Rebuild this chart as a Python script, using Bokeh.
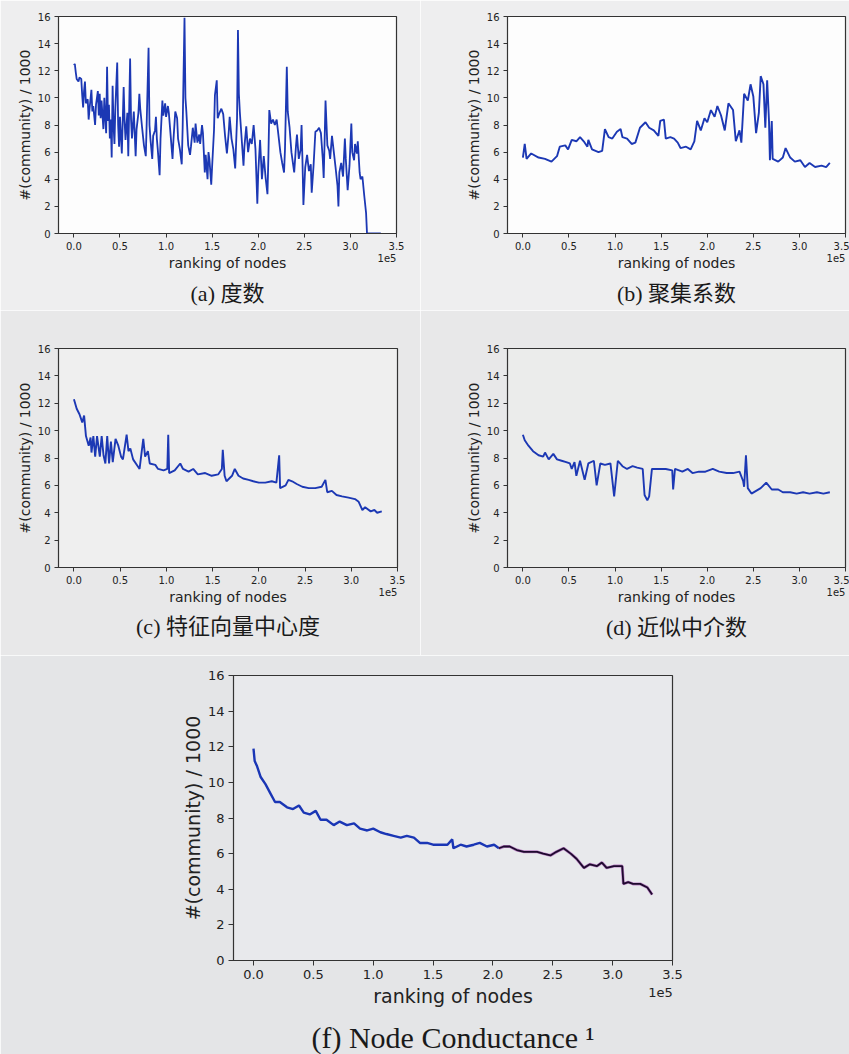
from bokeh.plotting import figure
from bokeh.layouts import column, row
from bokeh.models import Range1d, FixedTicker, NumeralTickFormatter, LinearAxis, Title
from bokeh.embed import file_html
from bokeh.resources import INLINE

# ---------------- data ----------------
X_TICKS = [0.0, 0.5, 1.0, 1.5, 2.0, 2.5, 3.0, 3.5]
Y_TICKS = [0, 2, 4, 6, 8, 10, 12, 14, 16]
X_LABEL = "ranking of nodes"
Y_LABEL = "#(community) / 1000"
X_OFFSET_TEXT = "1e5"

# (a) degree
rank_a = [0.00, 0.01, 0.02, 0.03, 0.05, 0.06, 0.08, 0.09, 0.10, 0.11, 0.12, 0.13, 0.15, 0.16, 0.17, 0.19,
          0.20, 0.21, 0.23, 0.24, 0.26, 0.27, 0.28, 0.29, 0.30, 0.32, 0.33, 0.34, 0.35, 0.36, 0.37, 0.38,
          0.39, 0.40, 0.41, 0.42, 0.43, 0.44, 0.45, 0.47, 0.48, 0.49, 0.50, 0.51, 0.52, 0.54, 0.55, 0.56,
          0.58, 0.59, 0.61, 0.62, 0.63, 0.65, 0.67, 0.68, 0.70, 0.71, 0.72, 0.74, 0.76, 0.78, 0.79, 0.81,
          0.82, 0.83, 0.85, 0.86, 0.88, 0.89, 0.90, 0.91, 0.93, 0.94, 0.96, 0.97, 0.99, 1.00, 1.02, 1.03,
          1.05, 1.07, 1.08, 1.10, 1.12, 1.13, 1.15, 1.17, 1.18, 1.20, 1.21, 1.22, 1.24, 1.26, 1.27, 1.29,
          1.31, 1.32, 1.34, 1.36, 1.37, 1.39, 1.40, 1.42, 1.43, 1.45, 1.46, 1.47, 1.49, 1.50, 1.52, 1.53,
          1.55, 1.56, 1.58, 1.60, 1.62, 1.64, 1.66, 1.68, 1.69, 1.71, 1.73, 1.75, 1.77, 1.78, 1.79, 1.80,
          1.82, 1.84, 1.85, 1.87, 1.89, 1.91, 1.93, 1.95, 1.97, 1.99, 2.00, 2.02, 2.04, 2.06, 2.08, 2.10,
          2.11, 2.12, 2.14, 2.16, 2.18, 2.20, 2.22, 2.24, 2.26, 2.28, 2.29, 2.31, 2.32, 2.34, 2.36, 2.38,
          2.39, 2.41, 2.42, 2.44, 2.46, 2.47, 2.48, 2.49, 2.51, 2.53, 2.55, 2.57, 2.58, 2.60, 2.62, 2.64,
          2.66, 2.68, 2.70, 2.71, 2.72, 2.73, 2.75, 2.77, 2.78, 2.80, 2.82, 2.84, 2.86, 2.87, 2.88, 2.90,
          2.92, 2.94, 2.95, 2.97, 2.99, 3.01, 3.02, 3.04, 3.05, 3.07, 3.08, 3.10, 3.11, 3.13, 3.15, 3.17,
          3.18, 3.25, 3.33]
comm_a = [12.4, 12.5, 11.9, 11.4, 11.2, 11.5, 11.4, 10.2, 9.3, 10.5, 11.2, 9.6, 9.9, 8.4, 9.2, 10.6,
          9.0, 9.4, 8.0, 9.5, 10.5, 8.7, 10.3, 8.5, 9.8, 7.7, 10.0, 8.6, 7.4, 12.3, 8.3, 9.5,
          7.0, 8.4, 5.6, 10.9, 8.0, 6.6, 9.3, 12.6, 8.0, 6.4, 8.6, 7.2, 5.9, 10.8, 8.3, 6.9,
          8.9, 5.7, 12.9, 8.4, 7.0, 9.0, 5.7, 7.7, 8.9, 10.3, 9.2, 7.8, 6.5, 5.7, 8.2, 13.7,
          8.0, 7.0, 5.5, 7.2, 7.6, 8.6, 7.0, 6.2, 4.3, 7.0, 9.8, 8.7, 9.6, 8.6, 9.4, 8.9,
          7.2, 5.5, 6.9, 9.0, 8.5, 7.0, 6.2, 5.1, 7.8, 15.9, 10.0, 9.0, 6.5, 5.8, 6.4, 7.8,
          6.7, 8.1, 6.7, 7.3, 6.6, 8.0, 7.4, 4.5, 5.8, 4.0, 6.0, 5.5, 3.6, 5.0, 7.6, 10.2,
          11.3, 8.5, 8.9, 9.2, 8.8, 7.2, 5.9, 7.5, 8.6, 7.0, 6.2, 4.8, 8.5, 15.0, 10.3, 9.0,
          7.0, 5.0, 6.4, 7.9, 6.0, 7.0, 6.6, 8.0, 6.2, 2.2, 4.5, 6.9, 4.0, 5.7, 4.1, 2.9,
          5.6, 9.1, 8.1, 8.4, 8.0, 8.4, 7.2, 6.0, 5.2, 4.5, 6.2, 12.3, 9.0, 7.8, 6.0, 5.0,
          4.5, 6.5, 7.3, 5.5, 6.2, 8.0, 5.3, 2.1, 4.9, 5.8, 4.6, 5.1, 3.0, 5.0, 7.5, 7.6,
          7.8, 7.4, 5.5, 4.1, 6.8, 9.8, 6.5, 6.1, 5.5, 7.2, 6.0, 4.8, 3.5, 2.0, 4.5, 5.2,
          4.2, 7.0, 5.5, 3.2, 5.0, 8.1, 6.0, 5.4, 6.6, 5.9, 6.8, 4.5, 4.0, 4.2, 2.8, 1.5,
          0.0, 0.0, 0.0]

# (b) clustering coefficient
rank_b = [0.00, 0.02, 0.04, 0.09, 0.17, 0.24, 0.31, 0.37, 0.40, 0.46, 0.49, 0.53, 0.58, 0.62, 0.66, 0.70,
          0.71, 0.75, 0.82, 0.86, 0.89, 0.93, 0.97, 1.02, 1.06, 1.08, 1.13, 1.18, 1.22, 1.27, 1.33, 1.37,
          1.42, 1.47, 1.49, 1.53, 1.55, 1.60, 1.64, 1.68, 1.71, 1.77, 1.82, 1.86, 1.89, 1.93, 1.97, 2.00,
          2.04, 2.08, 2.11, 2.15, 2.19, 2.23, 2.28, 2.31, 2.35, 2.37, 2.40, 2.44, 2.47, 2.50, 2.53, 2.56,
          2.58, 2.61, 2.63, 2.65, 2.67, 2.68, 2.70, 2.71, 2.77, 2.82, 2.85, 2.90, 2.95, 3.01, 3.06, 3.11,
          3.17, 3.24, 3.29, 3.33]
comm_b = [5.6, 6.6, 5.5, 5.9, 5.6, 5.5, 5.3, 5.7, 6.4, 6.5, 6.2, 6.9, 6.8, 7.1, 6.8, 6.4,
          6.9, 6.2, 6.0, 6.1, 7.7, 7.1, 7.0, 7.5, 7.7, 7.1, 7.0, 6.6, 6.7, 7.8, 8.2, 7.8,
          7.6, 7.2, 8.3, 8.4, 7.0, 7.1, 7.0, 6.7, 6.3, 6.4, 6.2, 6.8, 8.3, 7.6, 8.5, 8.2,
          9.1, 8.6, 9.4, 8.7, 7.6, 9.6, 9.1, 6.8, 7.6, 6.7, 10.3, 9.8, 11.0, 10.1, 7.4, 8.9,
          11.6, 11.0, 7.8, 11.3, 8.3, 5.4, 8.3, 5.5, 5.3, 5.6, 6.3, 5.6, 5.3, 5.4, 4.9, 5.2,
          4.9, 5.0, 4.9, 5.2]

# (c) eigenvector centrality
rank_c = [0.00, 0.03, 0.06, 0.09, 0.11, 0.13, 0.16, 0.18, 0.19, 0.21, 0.23, 0.25, 0.28, 0.30, 0.32, 0.34,
          0.36, 0.38, 0.40, 0.42, 0.45, 0.48, 0.51, 0.53, 0.57, 0.59, 0.61, 0.64, 0.69, 0.71, 0.75, 0.77,
          0.80, 0.82, 0.88, 0.91, 0.97, 1.01, 1.02, 1.03, 1.09, 1.15, 1.18, 1.24, 1.29, 1.34, 1.42, 1.49,
          1.56, 1.60, 1.61, 1.63, 1.65, 1.71, 1.74, 1.78, 1.83, 1.89, 1.94, 2.00, 2.07, 2.14, 2.19, 2.22,
          2.23, 2.29, 2.32, 2.36, 2.41, 2.47, 2.54, 2.61, 2.68, 2.72, 2.74, 2.79, 2.84, 2.90, 2.97, 3.04,
          3.08, 3.12, 3.15, 3.21, 3.25, 3.28, 3.33]
comm_c = [12.3, 11.6, 11.2, 10.6, 11.1, 9.6, 8.9, 9.5, 8.4, 9.6, 8.1, 9.6, 8.1, 9.6, 8.2, 7.6,
          9.6, 7.6, 9.2, 7.7, 9.4, 8.9, 8.1, 7.9, 9.7, 8.5, 8.7, 7.9, 7.4, 7.2, 9.4, 8.1,
          8.5, 7.6, 7.5, 7.2, 7.1, 7.2, 9.7, 6.9, 7.1, 7.6, 7.2, 7.0, 7.2, 6.8, 6.9, 6.7,
          6.8, 7.2, 8.6, 6.7, 6.3, 6.7, 7.2, 6.7, 6.5, 6.4, 6.3, 6.2, 6.2, 6.3, 6.2, 8.2,
          5.8, 6.0, 6.4, 6.3, 6.1, 5.9, 5.8, 5.8, 5.9, 6.4, 5.5, 5.6, 5.3, 5.2, 5.1, 5.0,
          4.8, 4.2, 4.4, 4.1, 4.2, 4.0, 4.1]

# (d) approximate betweenness centrality
rank_d = [0.00, 0.02, 0.06, 0.11, 0.17, 0.22, 0.24, 0.28, 0.33, 0.37, 0.42, 0.47, 0.51, 0.53, 0.56, 0.58,
          0.62, 0.67, 0.71, 0.77, 0.80, 0.84, 0.89, 0.95, 0.99, 1.03, 1.08, 1.13, 1.19, 1.24, 1.30, 1.32,
          1.35, 1.37, 1.40, 1.48, 1.55, 1.62, 1.63, 1.65, 1.73, 1.79, 1.84, 1.91, 1.98, 2.06, 2.13, 2.21,
          2.28, 2.35, 2.39, 2.40, 2.42, 2.44, 2.48, 2.53, 2.58, 2.64, 2.70, 2.77, 2.82, 2.90, 2.97, 3.04,
          3.11, 3.19, 3.26, 3.33]
comm_d = [9.7, 9.3, 8.9, 8.5, 8.2, 8.1, 8.4, 7.9, 8.3, 7.9, 7.8, 7.7, 7.6, 7.2, 7.7, 6.7,
          7.8, 6.4, 7.6, 7.8, 6.0, 7.6, 7.5, 7.6, 5.2, 7.8, 7.4, 7.2, 7.4, 7.3, 7.2, 5.3,
          4.9, 5.2, 7.2, 7.2, 7.2, 7.1, 5.7, 7.2, 7.0, 7.2, 6.9, 7.0, 7.0, 7.2, 7.0, 6.9,
          6.9, 7.0, 6.3, 5.9, 8.2, 5.8, 5.4, 5.6, 5.8, 6.2, 5.7, 5.7, 5.5, 5.5, 5.4, 5.5,
          5.4, 5.5, 5.4, 5.5]

# (f) node conductance (two colour segments)
rank_f1 = [0.00, 0.01, 0.03, 0.06, 0.10, 0.14, 0.18, 0.22, 0.28, 0.33, 0.38, 0.42, 0.47, 0.52, 0.56, 0.61,
           0.67, 0.72, 0.78, 0.84, 0.89, 0.95, 1.00, 1.06, 1.11, 1.17, 1.23, 1.28, 1.34, 1.39, 1.45, 1.50,
           1.56, 1.62, 1.66, 1.67, 1.73, 1.78, 1.84, 1.89, 1.95, 2.01, 2.05]
comm_f1 = [11.9, 11.2, 10.9, 10.3, 9.9, 9.4, 8.9, 8.9, 8.6, 8.5, 8.7, 8.3, 8.2, 8.4, 7.9, 7.9,
           7.6, 7.8, 7.6, 7.7, 7.4, 7.3, 7.4, 7.2, 7.1, 7.0, 6.9, 7.0, 6.9, 6.6, 6.6, 6.5,
           6.5, 6.5, 6.8, 6.3, 6.5, 6.4, 6.5, 6.6, 6.4, 6.5, 6.3]
rank_f2 = [2.05, 2.09, 2.14, 2.20, 2.26, 2.31, 2.37, 2.42, 2.48, 2.53, 2.59, 2.65, 2.70, 2.76, 2.81, 2.87,
           2.91, 2.95, 3.01, 3.08, 3.09, 3.13, 3.17, 3.23, 3.29, 3.33]
comm_f2 = [6.3, 6.4, 6.4, 6.2, 6.1, 6.1, 6.1, 6.0, 5.9, 6.1, 6.3, 6.0, 5.7, 5.2, 5.4, 5.3,
           5.5, 5.2, 5.3, 5.3, 4.3, 4.4, 4.3, 4.3, 4.1, 3.7]

CAPTIONS = ["(a) 度数", "(b) 聚集系数", "(c) 特征向量中心度", "(d) 近似中介数", "(f) Node Conductance \u00b9"]

# ---------------- drawing ----------------
X_START, X_END = -0.167, 3.5
Y_START, Y_END = 0, 16
PAGE_BG = ["#eeeeef", "#e8e8e9", "#e4e5e7"]
CAPTION_FONT = "Liberation Serif, Noto Sans CJK SC"
INK = "#222222"


def make_panel(geom, frame_bg, page_bg, caption, cap_standoff, big=False):
    left, fw, right, top, fh, bottom = geom
    p = figure(frame_width=fw, frame_height=fh,
               min_border_left=left, min_border_right=right,
               min_border_top=top, min_border_bottom=bottom,
               x_range=Range1d(X_START, X_END), y_range=Range1d(Y_START, Y_END),
               toolbar_location=None, output_backend="svg",
               background_fill_color=frame_bg, border_fill_color=page_bg,
               outline_line_color="#333333", outline_line_width=1.2)
    p.grid.visible = False
    p.xaxis.ticker = FixedTicker(ticks=X_TICKS)
    p.yaxis.ticker = FixedTicker(ticks=Y_TICKS)
    p.xaxis.formatter = NumeralTickFormatter(format="0.0")
    p.axis.major_tick_in = 0
    p.axis.major_tick_out = 5 if big else 4
    p.axis.minor_tick_line_color = None
    p.axis.axis_line_color = "#333333"
    p.axis.major_tick_line_color = "#333333"
    p.axis.major_label_text_font = "DejaVu Sans"
    p.axis.major_label_text_color = INK
    p.axis.major_label_text_font_size = "13px" if big else "10px"
    p.axis.major_label_standoff = 4
    p.yaxis.axis_label = Y_LABEL
    p.yaxis.axis_label_text_font = "DejaVu Sans"
    p.yaxis.axis_label_text_font_style = "normal"
    p.yaxis.axis_label_text_color = INK
    p.yaxis.axis_label_text_font_size = "19px" if big else "14px"
    p.yaxis.axis_label_standoff = 1 if big else 2

    # second row under the tick labels: the "1e5" offset text (as a tick label at the
    # right end) and the axis title "ranking of nodes" on the same line
    xs = fw / (X_END - X_START)
    off_pos = X_END - (12.0 if big else 9.5) / xs
    off_axis = LinearAxis(ticker=FixedTicker(ticks=[off_pos]),
                          major_label_overrides={off_pos: X_OFFSET_TEXT},
                          axis_line_color=None, major_tick_line_color=None,
                          minor_tick_line_color=None,
                          major_tick_in=0, major_tick_out=0,
                          major_label_standoff=6 if big else 1,
                          major_label_text_font="DejaVu Sans",
                          major_label_text_font_size="13px" if big else "10px",
                          major_label_text_color=INK,
                          axis_label=X_LABEL, axis_label_standoff=-15 if big else -10,
                          axis_label_text_font="DejaVu Sans",
                          axis_label_text_font_style="normal",
                          axis_label_text_color=INK,
                          axis_label_text_font_size="19px" if big else "14px")
    p.add_layout(off_axis, "below")

    p.add_layout(Title(text=caption, align="center", standoff=cap_standoff,
                       text_font=CAPTION_FONT, text_font_style="normal",
                       text_font_size="30px" if big else "22px",
                       text_color="#1a1a1a"), "below")
    return p


BLUE = "#1c38b4"

pa = make_panel((58, 338, 24, 16, 217, 77), "#fdfdfd", PAGE_BG[0], CAPTIONS[0], 10)
pa.line(rank_a, comm_a, line_color=BLUE, line_width=1.8)

pb = make_panel((87, 338, 4, 16, 217, 77), "#fdfdfd", PAGE_BG[0], CAPTIONS[1], 10)
pb.line(rank_b, comm_b, line_color=BLUE, line_width=1.9)

pc = make_panel((58, 339, 23, 38, 219, 88), "#efefef", PAGE_BG[1], CAPTIONS[2], 9)
pc.line(rank_c, comm_c, line_color=BLUE, line_width=1.9)

pd = make_panel((87, 338, 4, 38, 219, 88), "#ebeceb", PAGE_BG[1], CAPTIONS[3], 10)
pd.line(rank_d, comm_d, line_color=BLUE, line_width=1.9)

pf = make_panel((233, 439, 177, 20, 285, 94), "#e8e9ec", PAGE_BG[2], CAPTIONS[4], 18, big=True)
pf.line(rank_f1, comm_f1, line_color="#1a36b5", line_width=2.4)
pf.line(rank_f2, comm_f2, line_color="#9a3aa8", line_width=3.0, line_alpha=0.6)
pf.line(rank_f2, comm_f2, line_color="#1e0a2e", line_width=1.8)

layout = column(row(pa, pb), row(pc, pd), pf)
open("out.html", "w").write(file_html(layout, INLINE))
